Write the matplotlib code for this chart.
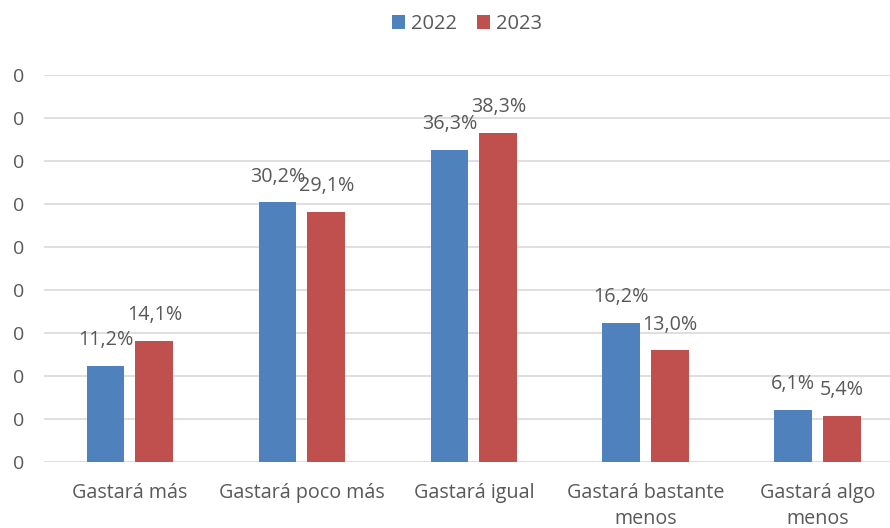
import matplotlib
matplotlib.use("Agg")
import matplotlib.pyplot as plt
import numpy as np

categories = ["Gastará más", "Gastará poco más", "Gastará igual",
              "Gastará bastante\nmenos", "Gastará algo\nmenos"]
series_names = ["2022", "2023"]
values_2022 = [0.112, 0.302, 0.363, 0.162, 0.061]
values_2023 = [0.141, 0.291, 0.383, 0.130, 0.054]
labels_2022 = ["11,2%", "30,2%", "36,3%", "16,2%", "6,1%"]
labels_2023 = ["14,1%", "29,1%", "38,3%", "13,0%", "5,4%"]
yticks = [0, 0.05, 0.10, 0.15, 0.20, 0.25, 0.30, 0.35, 0.40, 0.45]
ytick_labels = ["0"] * len(yticks)

colors = ["#4F81BD", "#C0504D"]
text_color = "#595959"
plt.rcParams['font.family'] = ['Open Sans', 'DejaVu Sans']

fig = plt.figure(figsize=(8.9, 5.28), dpi=100)
ax = fig.add_axes([44/890, 66/528, 1 - 44/890, (462-75)/528])

x = np.arange(len(categories))
w = 0.22
off = 0.142
b1 = ax.bar(x - off, values_2022, w, color=colors[0], label=series_names[0], zorder=3)
b2 = ax.bar(x + off, values_2023, w, color=colors[1], label=series_names[1], zorder=3)

for bars, labs in ((b1, labels_2022), (b2, labels_2023)):
    for rect, lab in zip(bars, labs):
        ax.annotate(lab, (rect.get_x() + rect.get_width()/2, rect.get_height()),
                    xytext=(0, 18.5), textcoords="offset points",
                    ha="center", va="center", fontsize=14.2, color=text_color, zorder=4)

ax.set_xlim(-0.5, 4.42)
ax.set_ylim(0, 0.45)
ax.set_yticks(yticks)
ax.set_yticklabels(ytick_labels)
ax.set_xticks(x)
ax.set_xticklabels(categories, linespacing=1.4)
ax.tick_params(axis="both", length=0, colors=text_color)
ax.tick_params(axis="x", pad=15, labelsize=14.2)
ax.tick_params(axis="y", pad=22.5, labelsize=14)
for lab in ax.get_yticklabels():
    lab.set_horizontalalignment("left")
ax.yaxis.grid(True, color="#D9D9D9", linewidth=1.2, zorder=0)
for s in ax.spines.values():
    s.set_visible(False)

leg = fig.legend(handles=[b1, b2], labels=series_names, loc="center",
                 bbox_to_anchor=(467/890, 1 - 24/528), ncol=2, frameon=False,
                 fontsize=14.5, handlelength=0.65, handleheight=0.75,
                 handletextpad=0.3, columnspacing=1.0)
for t in leg.get_texts():
    t.set_color(text_color)

fig.savefig("out.png", dpi=100)
